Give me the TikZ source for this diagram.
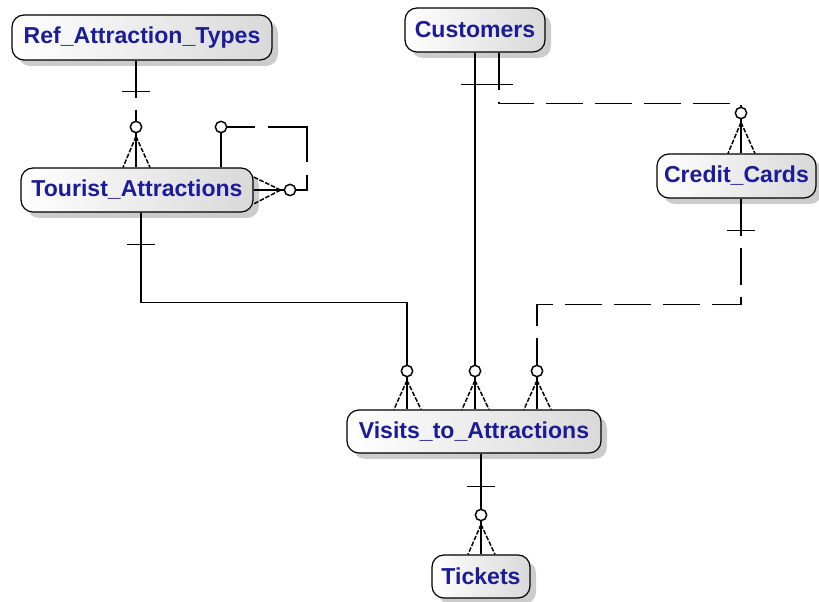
\documentclass[tikz,border=0pt]{standalone}
\usepackage{fontspec}
\setmainfont{Liberation Sans}
\usetikzlibrary{shadows,calc}
\definecolor{entblue}{RGB}{28,28,150}
\newcommand\crowfoot[2]{%
  \draw[rel] (#1.south) -- (#1.south |- #2.north);
  \draw[leg] ($(#1.south)+(0,3)$) -- ($(#1.south |- #2.north)+(-13,0)$);
  \draw[leg] ($(#1.south)+(0,3)$) -- ($(#1.south |- #2.north)+(14,0)$);}
\newcommand\onebar[1]{\draw[rel] ($(#1)+(-14,0)$) -- ($(#1)+(14,0)$);}
\begin{document}
\begin{tikzpicture}[x=0.75pt,y=-0.75pt,
  ent/.style={draw=black, line width=0.9pt, rounded corners=9pt,
    left color=white, right color=gray!30,
    drop shadow={shadow xshift=4.5pt, shadow yshift=-4.5pt, fill=gray!40, opacity=1},
    font=\fontsize{17.3}{20}\selectfont\bfseries, text=entblue, inner sep=0pt},
  ocirc/.style={circle, draw=black, line width=1.1pt, minimum size=8.5pt, inner sep=0pt, fill=white},
  rel/.style={line width=1.3pt},
  nrel/.style={line width=1.3pt, dash pattern=on 27.75pt off 9pt},
  leg/.style={line width=1.1pt, dash pattern=on 3.5pt off 1.2pt}]
\useasboundingbox (0,0) rectangle (819,602);

% entities
\node[ent, minimum width=195pt, minimum height=33.75pt] (ref) at (142,37.5) {Ref\_Attraction\_Types};
\node[ent, minimum width=174pt, minimum height=33pt] (tour) at (137,190) {Tourist\_Attractions};
\node[ent, minimum width=105pt, minimum height=33pt] (cust) at (475,30) {Customers};
\node[ent, minimum width=119.25pt, minimum height=33pt] (cc) at (736.5,176) {Credit\_Cards};
\node[ent, minimum width=190.5pt, minimum height=32.25pt] (vis) at (474,431.5) {Visits\_to\_Attractions};
\node[ent, minimum width=73.5pt, minimum height=32.25pt] (tick) at (481,576.5) {Tickets};

% optionality circles
\node[ocirc] (ort) at (136,127) {};
\node[ocirc] (ots1) at (221,127) {};
\node[ocirc] (ots2) at (290,190) {};
\node[ocirc] (otv) at (407,371) {};
\node[ocirc] (ocv) at (475,371) {};
\node[ocirc] (ovc) at (537,371) {};
\node[ocirc] (occ) at (741,113) {};
\node[ocirc] (ovt) at (481,515) {};

% Ref_Attraction_Types -> Tourist_Attractions
\draw[nrel] (ref.south -| ort) -- (ort.north);
\onebar{$(ref.south -| ort)+(0,31)$}
\crowfoot{ort}{tour}

% Tourist_Attractions self relation
\draw[rel] (tour.north -| ots1) -- (ots1.south);
\draw[line width=1.3pt, dash pattern=on 21pt off 9.75pt on 55.5pt off 9.75pt on 30pt off 10pt]
  (ots1.east) -| ($(ots2)+(17,0)$) -- (ots2.east);
\draw[rel] (ots2.west) -- (ots2.west -| tour.east);
\draw[leg] ($(ots2.west)+(-3,0)$) -- ($(tour.east)+(0,-13)$);
\draw[leg] ($(ots2.west)+(-3,0)$) -- ($(tour.east)+(0,14)$);

% Tourist_Attractions -> Visits_to_Attractions
\draw[rel] ($(tour.south)+(4,0)$) -- ++(0,90) -| (otv.north);
\onebar{$(tour.south)+(4,32)$}
\crowfoot{otv}{vis}

% Customers -> Visits_to_Attractions
\draw[rel] (cust.south -| ocv) -- (ocv.north);
\onebar{$(cust.south -| ocv)+(0,32)$}
\crowfoot{ocv}{vis}

% Customers -> Credit_Cards
\draw[nrel] ($(cust.south)+(24,0)$) -- ++(0,51) -| (occ.north);
\onebar{$(cust.south)+(24,32)$}
\crowfoot{occ}{cc}

% Credit_Cards -> Visits_to_Attractions
\draw[nrel] (cc.south -| occ) -- ++(0,106) -| (ovc.north);
\onebar{$(cc.south -| occ)+(0,32)$}
\crowfoot{ovc}{vis}

% Visits_to_Attractions -> Tickets
\draw[rel] (vis.south -| ovt) -- (ovt.north);
\onebar{$(vis.south -| ovt)+(0,33)$}
\crowfoot{ovt}{tick}
\end{tikzpicture}
\end{document}
